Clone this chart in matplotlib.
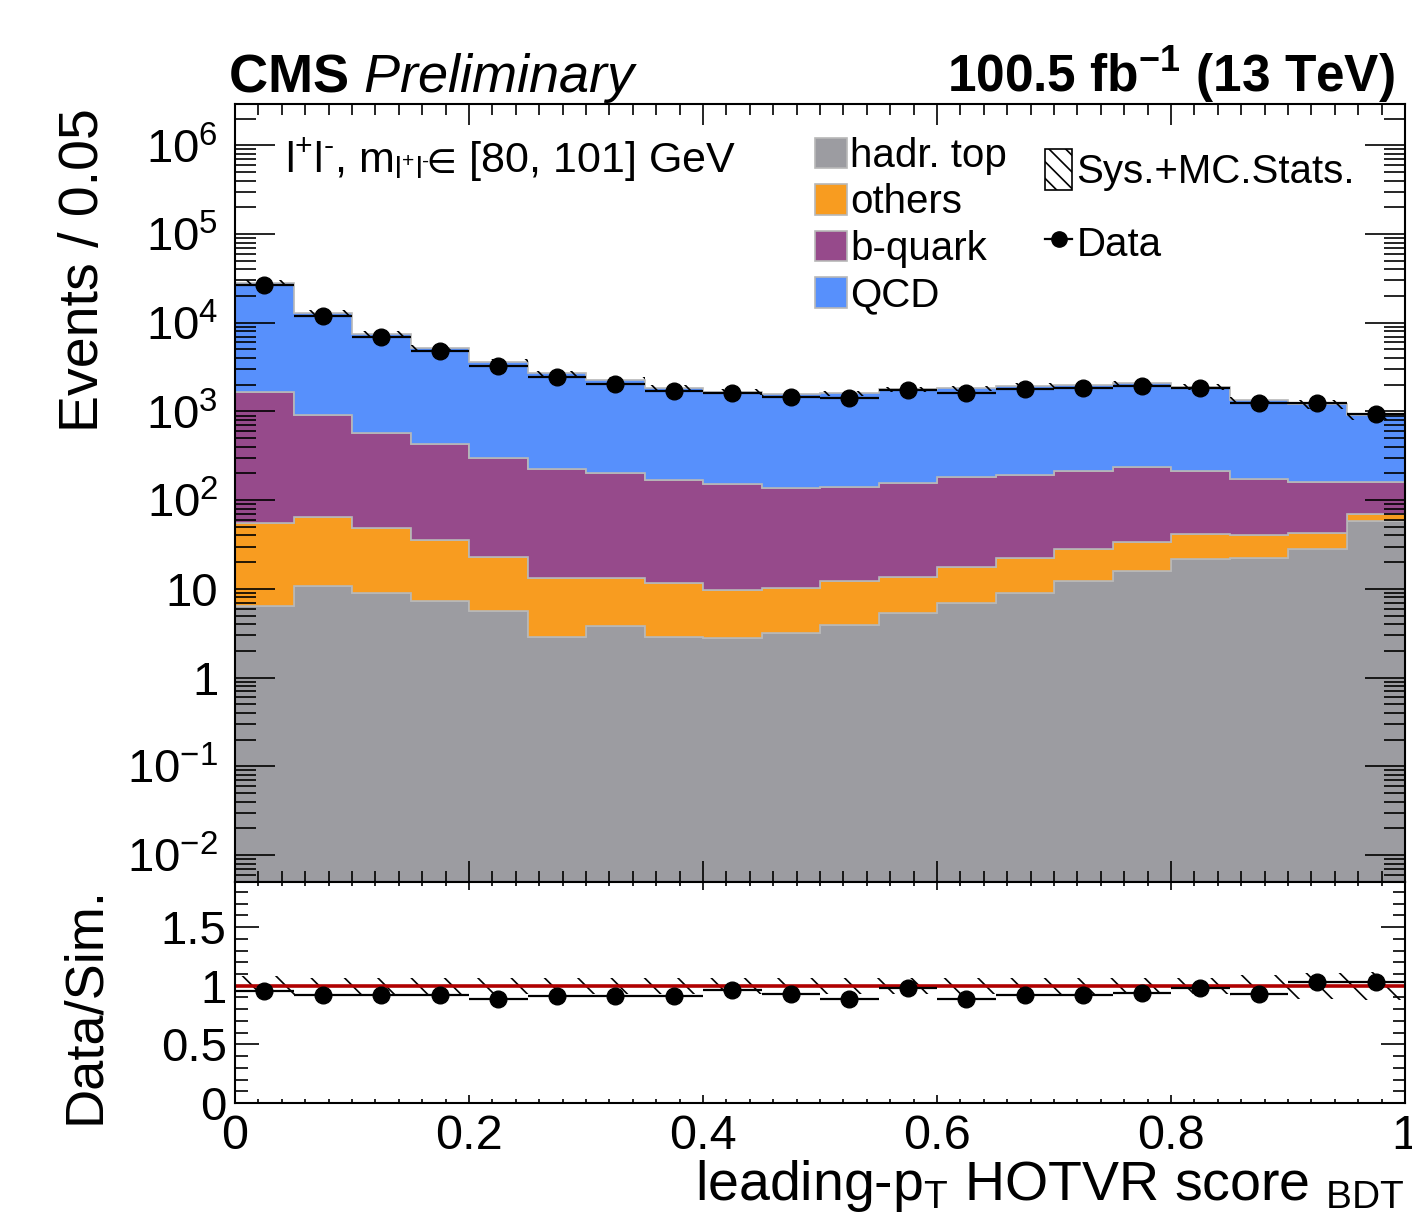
import numpy as np
import matplotlib
matplotlib.use('Agg')
import matplotlib.pyplot as plt
from matplotlib.patches import Patch
from matplotlib.lines import Line2D
from matplotlib.ticker import (MultipleLocator, LogLocator, FixedLocator,
                               FuncFormatter, NullFormatter)

plt.rcParams['font.family'] = ['Liberation Sans', 'DejaVu Sans']
plt.rcParams['mathtext.fontset'] = 'custom'
plt.rcParams['mathtext.rm'] = 'Liberation Sans'
plt.rcParams['mathtext.it'] = 'Liberation Sans:italic'
plt.rcParams['mathtext.bf'] = 'Liberation Sans:bold'
plt.rcParams['mathtext.sf'] = 'Liberation Sans'
plt.rcParams['mathtext.fallback'] = 'stixsans'
plt.rcParams['mathtext.default'] = 'regular'
plt.rcParams['hatch.linewidth'] = 1.2

# ---------------- data ----------------
bin_edges = np.round(np.arange(0.0, 1.0001, 0.05), 3)
hadr_top = [6.4, 10.8, 8.9, 7.3, 5.6, 2.9, 3.8, 2.9, 2.8, 3.2,
            3.9, 5.3, 6.9, 8.9, 12.3, 16.0, 21.5, 22.4, 27.9, 58.1]
others = [49.2, 54.2, 40.0, 28.2, 17.4, 10.2, 9.3, 8.6, 6.9, 6.9,
          8.4, 8.4, 10.8, 13.5, 15.6, 18.0, 20.0, 17.7, 15.0, 11.6]
b_quark = [1585, 845, 526, 396, 278, 209, 191, 157, 141, 127,
           130, 143, 166, 170, 186, 200, 172, 134, 117, 90]
qcd = [26610, 12060, 6885, 4800, 3330, 2470, 2055, 1680, 1515, 1435,
       1460, 1620, 1635, 1740, 1755, 1840, 1685, 1170, 1050, 750]
data = [26870, 11970, 6890, 4830, 3230, 2450, 2065, 1690, 1610, 1460,
        1425, 1750, 1620, 1777, 1822, 1942, 1856, 1251, 1247, 937]
syst_rel = [0.08, 0.07, 0.07, 0.07, 0.07, 0.07, 0.07, 0.07, 0.07, 0.07,
            0.07, 0.07, 0.07, 0.07, 0.07, 0.07, 0.07, 0.09, 0.11, 0.12]

bkg_names = ['hadr. top', 'others', 'b-quark', 'QCD']
bkg_colors = ['#9c9ca1', '#f89c20', '#964a8b', '#5790fc']
x_ticks = [0, 0.2, 0.4, 0.6, 0.8, 1.0]
ratio_ticks = [0, 0.5, 1.0, 1.5]
log_ticks = [1e-2, 1e-1, 1, 10, 1e2, 1e3, 1e4, 1e5, 1e6]

# ---------------- figure ----------------
W, H = 1412, 1225
fig = plt.figure(figsize=(W / 100, H / 100), dpi=100)
ax = fig.add_axes([235 / W, 1 - 882 / H, 1170 / W, 778 / H])
rax = fig.add_axes([235 / W, 1 - 1103 / H, 1170 / W, 221 / H])

edges = np.array(bin_edges)
centers = 0.5 * (edges[:-1] + edges[1:])
half = 0.5 * np.diff(edges)
comps = [np.array(hadr_top, float), np.array(others, float),
         np.array(b_quark, float), np.array(qcd, float)]
base = np.full(len(centers), 1e-4)
for vals, col in zip(comps, bkg_colors):
    top = base + vals
    ax.stairs(top, edges, baseline=base, fill=True, facecolor=col,
              edgecolor='#b8b8b8', linewidth=1.2, zorder=1)
    base = top
total = base
unc = np.array(syst_rel)
data = np.array(data, float)

ax.stairs(total * (1 + unc), edges, baseline=total * (1 - unc), fill=True,
          facecolor='none', edgecolor='black', linewidth=0, hatch='\\', zorder=2)
ax.errorbar(centers, data, xerr=half, yerr=np.sqrt(data), fmt='o', color='black',
            markersize=12, elinewidth=1.6, capsize=0, zorder=3)

ax.set_yscale('log')
ax.set_xlim(0, 1)
ax.set_ylim(4.95e-3, 2.93e6)

def logfmt(v, pos):
    e = int(round(np.log10(v)))
    if e == 0:
        return '1'
    if e == 1:
        return '10'
    return r'$10^{%d}$' % e

ax.yaxis.set_major_locator(FixedLocator(log_ticks))
ax.yaxis.set_minor_locator(LogLocator(base=10, subs=np.arange(2, 10), numticks=20))
ax.yaxis.set_major_formatter(FuncFormatter(logfmt))
ax.yaxis.set_minor_formatter(NullFormatter())
ax.xaxis.set_major_locator(MultipleLocator(0.2))
ax.xaxis.set_minor_locator(MultipleLocator(0.02))
ax.tick_params(which='both', direction='in', top=True, right=True, labelbottom=False, width=1.2)
ax.tick_params(axis='y', which='major', length=29, labelsize=34, pad=12)
ax.tick_params(axis='y', which='minor', length=15)
ax.tick_params(axis='x', which='major', length=15)
ax.tick_params(axis='x', which='minor', length=8)
for s in ax.spines.values():
    s.set_linewidth(1.5)

# ratio panel
ratio = data / total
rax.stairs(1 + unc, edges, baseline=1 - unc, fill=True, facecolor='none',
           edgecolor='black', linewidth=0, hatch='\\', zorder=1)
rax.axhline(1.0, color='#b00000', linewidth=2.6, zorder=2)
rax.errorbar(centers, ratio, xerr=half, yerr=np.sqrt(data) / total, fmt='o', color='black',
             markersize=12, elinewidth=1.6, capsize=0, zorder=3)
rax.set_xlim(0, 1)
rax.set_ylim(0, 1.885)
rax.set_xticks(x_ticks)
rax.xaxis.set_minor_locator(MultipleLocator(0.02))
rax.set_yticks(ratio_ticks)
rax.yaxis.set_minor_locator(MultipleLocator(0.1))
rax.xaxis.set_major_formatter(FuncFormatter(lambda v, p: '%g' % v))
rax.yaxis.set_major_formatter(FuncFormatter(lambda v, p: '%g' % v))
rax.tick_params(which='both', direction='in', top=True, right=True, width=1.2)
rax.tick_params(axis='y', which='major', length=17, pad=6, labelsize=34)
rax.tick_params(axis='y', which='minor', length=9)
rax.tick_params(axis='x', which='major', length=6, pad=8, labelsize=35)
rax.tick_params(axis='x', which='minor', length=3)
for s in rax.spines.values():
    s.set_linewidth(1.5)

# legends
h1 = [Patch(facecolor=c, edgecolor='#b8b8b8', linewidth=1.2) for c in bkg_colors]
leg1 = ax.legend(h1, bkg_names, loc='upper left', bbox_to_anchor=(0.4957, 0.9576),
                 fontsize=29, frameon=False, handlelength=0.8, handleheight=0.8,
                 handletextpad=0.08, labelspacing=0.21, borderpad=0, borderaxespad=0)
ax.add_artist(leg1)
h2 = [Patch(facecolor='white', edgecolor='black', linewidth=1.2, hatch='\\\\'),
      Line2D([], [], color='black', marker='o', markersize=11, linewidth=1.6)]
ax.legend(h2, ['Sys.+MC.Stats.', 'Data'], loc='upper left', bbox_to_anchor=(0.6923, 0.942),
          fontsize=29, frameon=False, handlelength=0.68, handleheight=1.2,
          handletextpad=0.1, labelspacing=0.76, borderpad=0, borderaxespad=0)

# texts
fig.text(228 / W, 1 - 92 / H, r'$\mathbf{CMS}$ $\mathit{Preliminary}$', fontsize=39,
         ha='left', va='baseline')
fig.text(1395 / W, 1 - 92 / H, r'100.5 fb$^{\mathbf{-1}}$ (13 TeV)', fontsize=37,
         fontweight='bold', ha='right', va='baseline')
fig.text(285 / W, 1 - 173 / H,
         r'l$^{+}$l$^{\text{-}}$, m$_{\mathrm{l^{+}l^{\text{-}}}}\!\!\in\!$ [80, 101] GeV',
         fontsize=31, ha='left', va='baseline')
fig.text(110 / W, 1 - 270 / H, 'Events / 0.05', rotation=90, fontsize=40, ha='right', va='center')
fig.text(110 / W, 1 - 1005 / H, 'Data/Sim.', rotation=90, fontsize=39, ha='right', va='center')
fig.text(1405 / W, 1 - 1200 / H, r'leading-p$_{\mathrm{T}}$ HOTVR score $_{\mathrm{BDT}}$',
         fontsize=40, ha='right', va='baseline')

fig.savefig('out.png', dpi=100)
